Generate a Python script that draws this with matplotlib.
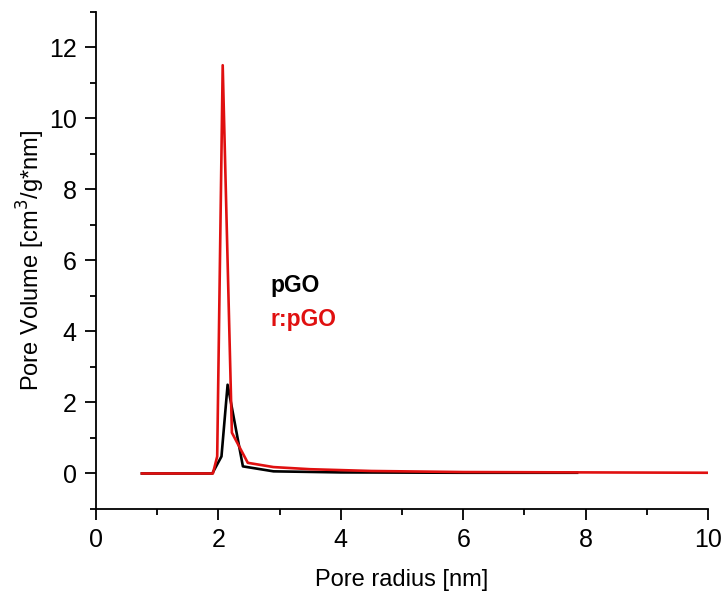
import matplotlib
matplotlib.use("Agg")
import matplotlib.pyplot as plt
from matplotlib.ticker import MultipleLocator

plt.rcParams['font.family'] = ['Liberation Sans', 'DejaVu Sans']

# pGO (black)
pgo_x = [0.75, 1.9, 2.05, 2.15, 2.4, 2.9, 4.0, 6.0, 7.86]
pgo_y = [0.0, 0.0, 0.48, 2.5, 0.2, 0.06, 0.03, 0.02, 0.02]

# r:pGO (red)
rpgo_x = [0.75, 1.91, 1.98, 2.07, 2.22, 2.48, 2.9, 3.5, 4.5, 6.0, 8.0, 10.0]
rpgo_y = [0.0, 0.0, 0.48, 11.5, 1.15, 0.3, 0.18, 0.12, 0.07, 0.04, 0.03, 0.02]

fig = plt.figure(figsize=(7.24, 5.99), dpi=100)
ax = fig.add_axes([0.1326, 0.1503, 0.978 - 0.1326, 0.98 - 0.1503])

ax.plot(pgo_x, pgo_y, color='black', lw=1.9)
ax.plot(rpgo_x, rpgo_y, color='#e01010', lw=1.9)

ax.set_xlim(0, 10)
ax.set_ylim(-1, 13)
ax.xaxis.set_major_locator(MultipleLocator(2))
ax.xaxis.set_minor_locator(MultipleLocator(1))
ax.yaxis.set_major_locator(MultipleLocator(2))
ax.yaxis.set_minor_locator(MultipleLocator(1))
for s in ['top', 'right']:
    ax.spines[s].set_visible(False)
for s in ['left', 'bottom']:
    ax.spines[s].set_linewidth(1.3)
ax.tick_params(which='major', direction='out', length=8, width=1.3, labelsize=18, pad=6)
ax.tick_params(which='minor', direction='out', length=4, width=1.3)

ax.set_xlabel('Pore radius [nm]', fontsize=17, labelpad=12)
ax.set_ylabel('Pore Volume [cm$^3$/g*nm]', fontsize=17)
ax.yaxis.set_label_coords(-0.08, 0.5)

ax.text(2.85, 5.1, 'pGO', color='black', fontsize=16.5, fontweight='bold')
ax.text(2.85, 4.15, 'r:pGO', color='#e01010', fontsize=16.5, fontweight='bold')

fig.savefig('out.png', dpi=100)
